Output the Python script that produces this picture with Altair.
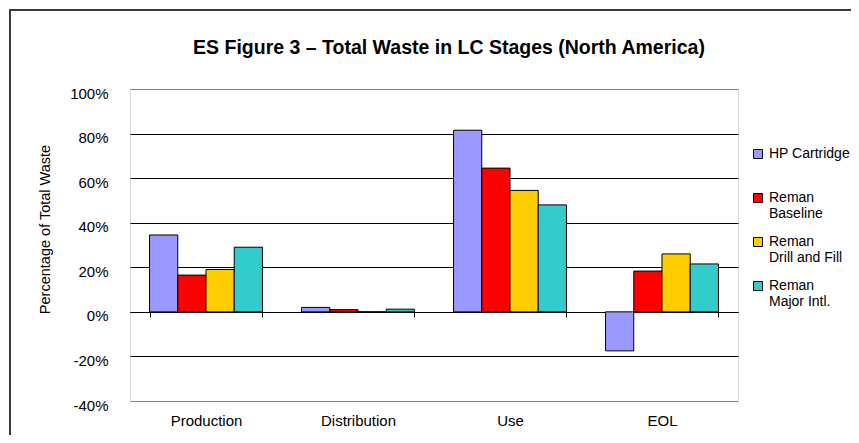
import altair as alt
import pandas as pd

stages = ["Production", "Distribution", "Use", "EOL"]
series = ["HP Cartridge", "Reman Baseline", "Reman Drill and Fill", "Reman Major Intl."]
colors = ["#9999FF", "#FF0000", "#FFCC00", "#33CCCC"]

hp_cartridge = [0.345, 0.02, 0.815, -0.175]
reman_baseline = [0.165, 0.01, 0.645, 0.183]
reman_drill_fill = [0.19, 0.0, 0.545, 0.26]
reman_major_intl = [0.29, 0.012, 0.48, 0.215]

y_ticks = [-0.4, -0.2, 0.0, 0.2, 0.4, 0.6, 0.8, 1.0]

rows = []
for name, vals in zip(series, [hp_cartridge, reman_baseline, reman_drill_fill, reman_major_intl]):
    for st, v in zip(stages, vals):
        rows.append({"stage": st, "series": name, "value": v})
df = pd.DataFrame(rows)

FONT = "Liberation Sans, Arial"

frame = alt.Chart(alt.Data(values=[{"a": 1}])).mark_rect(
    fill="white", fillOpacity=0, stroke="#3a3a3a", strokeWidth=2
).encode(
    x=alt.value(-120), x2=alt.value(760), y=alt.value(-79), y2=alt.value(400)
)

bars = alt.Chart(df).mark_bar(stroke="black", strokeWidth=1).encode(
    x=alt.X(
        "stage:N",
        sort=stages,
        scale=alt.Scale(paddingInner=0.257, paddingOuter=0.1285),
        axis=alt.Axis(
            title=None,
            labelAngle=0,
            offset=-89,
            domain=True,
            domainColor="black",
            domainWidth=1,
            ticks=True,
            tickBand="extent",
            tickSize=5,
            tickColor="black",
            labelPadding=96,
            labelFontSize=15,
            labelColor="black",
            labelFont=FONT,
        ),
    ),
    xOffset=alt.XOffset("series:N", sort=series, scale=alt.Scale(paddingInner=0, paddingOuter=0)),
    y=alt.Y(
        "value:Q",
        scale=alt.Scale(domain=[-0.4, 1.0], nice=False),
        axis=alt.Axis(
            title="Percentage of Total Waste",
            values=y_ticks,
            labelExpr="(datum.value < -0.001 ? '-' : '') + round(abs(datum.value) * 100) + '%'",
            domain=False,
            ticks=False,
            labelPadding=22,
            labelOffset=4,
            labelFontSize=15,
            labelColor="black",
            labelFont=FONT,
            grid=True,
            gridColor=alt.condition(
                "datum.value >= 0.99 || datum.value <= -0.39",
                alt.value("#808080"),
                alt.value("black"),
            ),
            gridWidth=1,
            titleFontSize=14.5,
            titleFontWeight="normal",
            titleFont=FONT,
            titleColor="black",
            titleAngle=-90,
            titleX=-85,
            titleY=140,
            titleAlign="center",
            titleBaseline="middle",
        ),
    ),
    color=alt.Color(
        "series:N",
        sort=series,
        scale=alt.Scale(domain=series, range=colors),
        legend=alt.Legend(
            title=None,
            orient="none",
            legendX=621,
            legendY=58,
            direction="vertical",
            gridAlign="all",
            symbolType="square",
            symbolSize=81,
            symbolStrokeColor="black",
            symbolStrokeWidth=1,
            symbolOpacity=1,
            labelFontSize=14,
            labelFont=FONT,
            labelColor="black",
            labelOffset=4,
            labelLimit=200,
            rowPadding=14,
            labelExpr="datum.label == 'HP Cartridge' ? datum.label : split(replace(datum.label, 'Reman ', 'Reman|'), '|')",
        ),
    ),
)

chart = alt.layer(frame, bars).properties(
    width=608,
    height=312,
    padding={"left": 122, "top": 81, "right": 113, "bottom": 34},
    autosize=alt.AutoSizeParams(type="none"),
    title=alt.TitleParams(
        text="ES Figure 3 \u2013 Total Waste in LC Stages (North America)",
        fontSize=19.5,
        fontWeight="bold",
        font=FONT,
        color="black",
        anchor="middle",
        frame="group",
        baseline="alphabetic",
        dx=15,
        offset=-64,
    ),
).configure_view(
    stroke="#808080", strokeWidth=1
).configure(background="white")

chart.save("out.html", embed_options={"renderer": "svg", "actions": False})
